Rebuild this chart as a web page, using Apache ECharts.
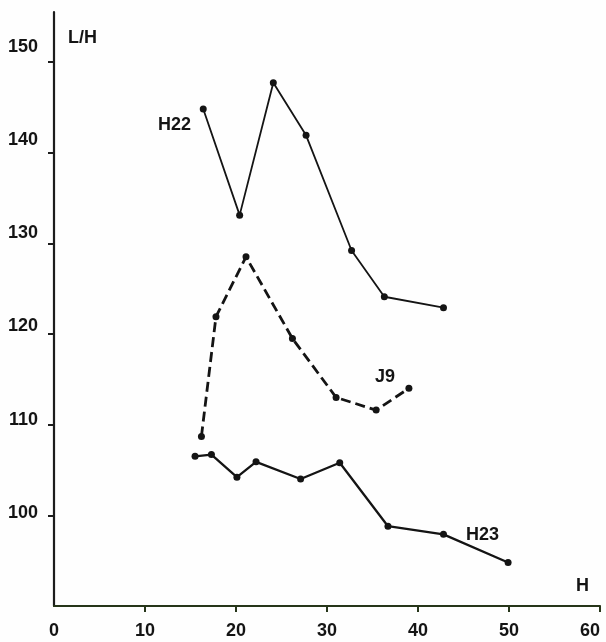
<!DOCTYPE html>
<html>
<head>
<meta charset="utf-8">
<script src="https://cdn.jsdelivr.net/npm/echarts@6/dist/echarts.min.js"></script>
<style>
html,body{margin:0;padding:0;background:#fefefe;}
#c{width:606px;height:642px;}
</style>
</head>
<body>
<div id="c"></div>
<script>
// ---- data (H, L/H) ----
const h22X = [16.4, 20.4, 24.1, 27.7, 32.7, 36.3, 42.8];
const h22Y = [144.8, 133.1, 147.7, 141.9, 129.2, 124.1, 122.9];

const j9X = [16.2, 17.8, 21.1, 26.2, 31.0, 35.4, 39.0];
const j9Y = [108.7, 121.9, 128.5, 119.5, 113.0, 111.6, 114.0];

const h23X = [15.5, 17.3, 20.1, 22.2, 27.1, 31.4, 36.7, 42.8, 49.9];
const h23Y = [106.5, 106.7, 104.2, 105.9, 104.0, 105.8, 98.8, 97.9, 94.8];

const xTicks = [0, 10, 20, 30, 40, 50, 60];
const yTicks = [100, 110, 120, 130, 140, 150];

const pairs = (xs, ys) => xs.map((x, i) => [x, ys[i]]);

const FONT = '"Liberation Sans", Arial, sans-serif';
const INK = '#141414';

const chart = echarts.init(document.getElementById('c'), null, {renderer: 'canvas'});

const lineSeries = (name, data, width, type) => ({
  name, type: 'line', data,
  xAxisIndex: 0, yAxisIndex: 0,
  symbol: 'circle', symbolSize: 7,
  itemStyle: {color: INK},
  lineStyle: {color: INK, width, type},
  emphasis: {disabled: true},
  animation: false
});

chart.setOption({
  backgroundColor: '#fefefe',
  animation: false,
  grid: {left: 54, right: 6, top: 12, bottom: 36, containLabel: false},
  xAxis: {
    type: 'value', min: 0, max: 60, interval: 10,
    axisLine: {show: true, lineStyle: {color: '#263519', width: 2.2}},
    axisTick: {show: true, inside: false, length: 6, lineStyle: {color: '#263519', width: 2},
      customValues: xTicks.slice(1)},
    axisLabel: {show: true, color: INK, fontFamily: FONT, fontWeight: 'bold', fontSize: 18,
      margin: 16, customValues: xTicks, alignMaxLabel: 'right'},
    splitLine: {show: false}
  },
  yAxis: [
    {
      type: 'value', min: 90, max: 155.5, interval: 10, position: 'left',
      axisLine: {show: true, onZero: false, lineStyle: {color: '#1c1c1c', width: 2.2}},
      axisTick: {show: true, inside: false, length: 6, lineStyle: {color: '#1c1c1c', width: 2},
        customValues: yTicks},
      axisLabel: {show: false},
      splitLine: {show: false}
    },
    {
      // label positions as printed in the figure
      type: 'value', min: 90, max: 153.76, interval: 10, position: 'left',
      axisLine: {show: false}, axisTick: {show: false},
      axisLabel: {show: true, color: INK, fontFamily: FONT, fontWeight: 'bold', fontSize: 18,
        margin: 16, customValues: yTicks},
      splitLine: {show: false}
    }
  ],
  series: [
    lineSeries('H22', pairs(h22X, h22Y), 1.8, 'solid'),
    lineSeries('J9', pairs(j9X, j9Y), 2.8, [10, 5]),
    lineSeries('H23', pairs(h23X, h23Y), 2.3, 'solid')
  ],
  graphic: [
    {type: 'text', left: 68, top: 29, style: {text: 'L/H', fill: INK, font: 'bold 18px ' + FONT}},
    {type: 'text', left: 158, top: 116, style: {text: 'H22', fill: INK, font: 'bold 18px ' + FONT}},
    {type: 'text', left: 375, top: 368, style: {text: 'J9', fill: INK, font: 'bold 18px ' + FONT}},
    {type: 'text', left: 466, top: 526, style: {text: 'H23', fill: INK, font: 'bold 18px ' + FONT}},
    {type: 'text', left: 576, top: 577, style: {text: 'H', fill: INK, font: 'bold 18px ' + FONT}}
  ]
});
</script>
</body>
</html>
